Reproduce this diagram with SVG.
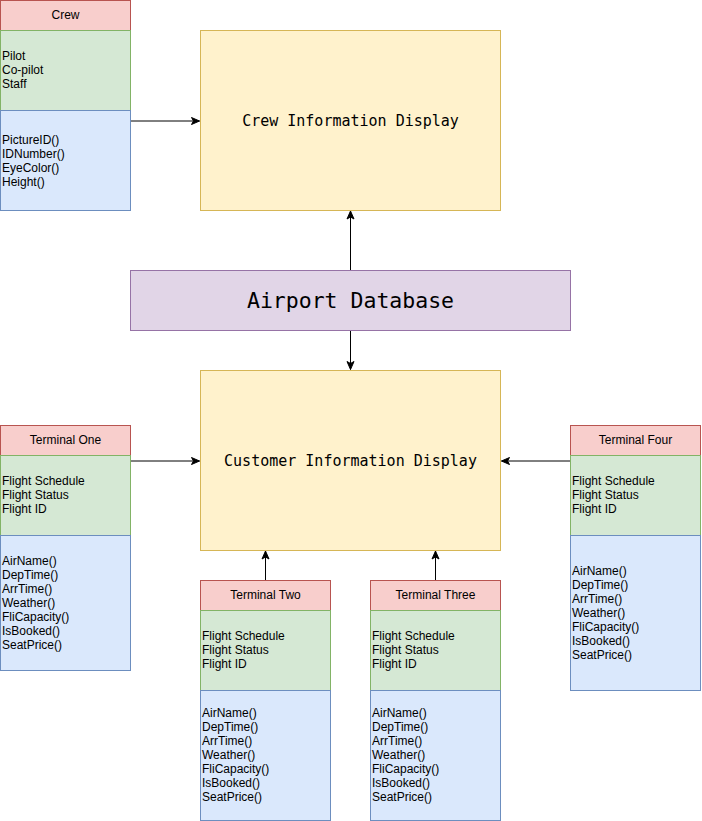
<svg xmlns="http://www.w3.org/2000/svg" width="702" height="821" viewBox="0 0 702 821">
<style>
.hd{fill:#f8cecc;stroke:#b85450}
.at{fill:#d5e8d4;stroke:#82b366}
.mt{fill:#dae8fc;stroke:#6c8ebf}
.dp{fill:#fff2cc;stroke:#d6b656}
.db{fill:#e1d5e7;stroke:#9673a6}
text{font-family:"Liberation Sans",Arial,sans-serif;font-size:12px;fill:#000}
.c{text-anchor:middle;dominant-baseline:central}
.mono{font-family:"DejaVu Sans Mono","Liberation Mono",monospace;font-size:15px;text-anchor:middle;dominant-baseline:central}
.big{font-size:21.5px}
.e{fill:none;stroke:#000;stroke-width:1}
</style>
<defs>
<marker id="a" viewBox="0 0 10 10" refX="9" refY="5" markerWidth="10" markerHeight="10" markerUnits="userSpaceOnUse" orient="auto">
<path d="M1,1.5 L9,5 L1,8.5 L3,5 Z" fill="#000" stroke="#000" stroke-width="1"/>
</marker>
</defs>
<g id="connectors">
<path class="e" d="M130.5,121 L199.5,121" marker-end="url(#a)"/>
<path class="e" d="M350.5,270 L350.5,211" marker-end="url(#a)"/>
<path class="e" d="M350.5,331 L350.5,369.5" marker-end="url(#a)"/>
<path class="e" d="M130.5,461 L199.5,461" marker-end="url(#a)"/>
<path class="e" d="M570.5,461 L501.5,461" marker-end="url(#a)"/>
<path class="e" d="M265.5,580 L265.5,551" marker-end="url(#a)"/>
<path class="e" d="M435.5,580 L435.5,551" marker-end="url(#a)"/>
</g>
<g id="crew">
<rect class="hd" x="0.5" y="0.5" width="130" height="30"/>
<text class="c" x="65.5" y="15">Crew</text>
<rect class="at" x="0.5" y="30.5" width="130" height="80"/>
<text x="2" y="59.5">Pilot</text>
<text x="2" y="73.5">Co-pilot</text>
<text x="2" y="87.5">Staff</text>
<rect class="mt" x="0.5" y="110.5" width="130" height="100"/>
<text x="2" y="143.5">PictureID()</text>
<text x="2" y="157.5">IDNumber()</text>
<text x="2" y="171.5">EyeColor()</text>
<text x="2" y="185.5">Height()</text>
</g>
<g id="crew-display">
<rect class="dp" x="200.5" y="30.5" width="300" height="180"/>
<text class="mono" x="350.5" y="121">Crew Information Display</text>
</g>
<g id="airport-db">
<rect class="db" x="130.5" y="270.5" width="440" height="60"/>
<text class="mono big" x="350.5" y="300.5">Airport Database</text>
</g>
<g id="customer-display">
<rect class="dp" x="200.5" y="370.5" width="300" height="180"/>
<text class="mono" x="350.5" y="461">Customer Information Display</text>
</g>
<g id="terminal-one">
<rect class="hd" x="0.5" y="425.5" width="130" height="30"/>
<text class="c" x="65.5" y="440">Terminal One</text>
<rect class="at" x="0.5" y="455.5" width="130" height="80"/>
<text x="2" y="484.5">Flight Schedule</text>
<text x="2" y="498.5">Flight Status</text>
<text x="2" y="512.5">Flight ID</text>
<rect class="mt" x="0.5" y="535.5" width="130" height="135"/>
<text x="2" y="564.5">AirName()</text>
<text x="2" y="578.5">DepTime()</text>
<text x="2" y="592.5">ArrTime()</text>
<text x="2" y="606.5">Weather()</text>
<text x="2" y="620.5">FliCapacity()</text>
<text x="2" y="634.5">IsBooked()</text>
<text x="2" y="648.5">SeatPrice()</text>
</g>
<g id="terminal-two">
<rect class="hd" x="200.5" y="580.5" width="130" height="30"/>
<text class="c" x="265.5" y="595">Terminal Two</text>
<rect class="at" x="200.5" y="610.5" width="130" height="80"/>
<text x="202" y="639.5">Flight Schedule</text>
<text x="202" y="653.5">Flight Status</text>
<text x="202" y="667.5">Flight ID</text>
<rect class="mt" x="200.5" y="690.5" width="130" height="130"/>
<text x="202" y="716.5">AirName()</text>
<text x="202" y="730.5">DepTime()</text>
<text x="202" y="744.5">ArrTime()</text>
<text x="202" y="758.5">Weather()</text>
<text x="202" y="772.5">FliCapacity()</text>
<text x="202" y="786.5">IsBooked()</text>
<text x="202" y="800.5">SeatPrice()</text>
</g>
<g id="terminal-three">
<rect class="hd" x="370.5" y="580.5" width="130" height="30"/>
<text class="c" x="435.5" y="595">Terminal Three</text>
<rect class="at" x="370.5" y="610.5" width="130" height="80"/>
<text x="372" y="639.5">Flight Schedule</text>
<text x="372" y="653.5">Flight Status</text>
<text x="372" y="667.5">Flight ID</text>
<rect class="mt" x="370.5" y="690.5" width="130" height="130"/>
<text x="372" y="716.5">AirName()</text>
<text x="372" y="730.5">DepTime()</text>
<text x="372" y="744.5">ArrTime()</text>
<text x="372" y="758.5">Weather()</text>
<text x="372" y="772.5">FliCapacity()</text>
<text x="372" y="786.5">IsBooked()</text>
<text x="372" y="800.5">SeatPrice()</text>
</g>
<g id="terminal-four">
<rect class="hd" x="570.5" y="425.5" width="130" height="30"/>
<text class="c" x="635.5" y="440">Terminal Four</text>
<rect class="at" x="570.5" y="455.5" width="130" height="80"/>
<text x="572" y="484.5">Flight Schedule</text>
<text x="572" y="498.5">Flight Status</text>
<text x="572" y="512.5">Flight ID</text>
<rect class="mt" x="570.5" y="535.5" width="130" height="155"/>
<text x="572" y="574.5">AirName()</text>
<text x="572" y="588.5">DepTime()</text>
<text x="572" y="602.5">ArrTime()</text>
<text x="572" y="616.5">Weather()</text>
<text x="572" y="630.5">FliCapacity()</text>
<text x="572" y="644.5">IsBooked()</text>
<text x="572" y="658.5">SeatPrice()</text>
</g>
</svg>
